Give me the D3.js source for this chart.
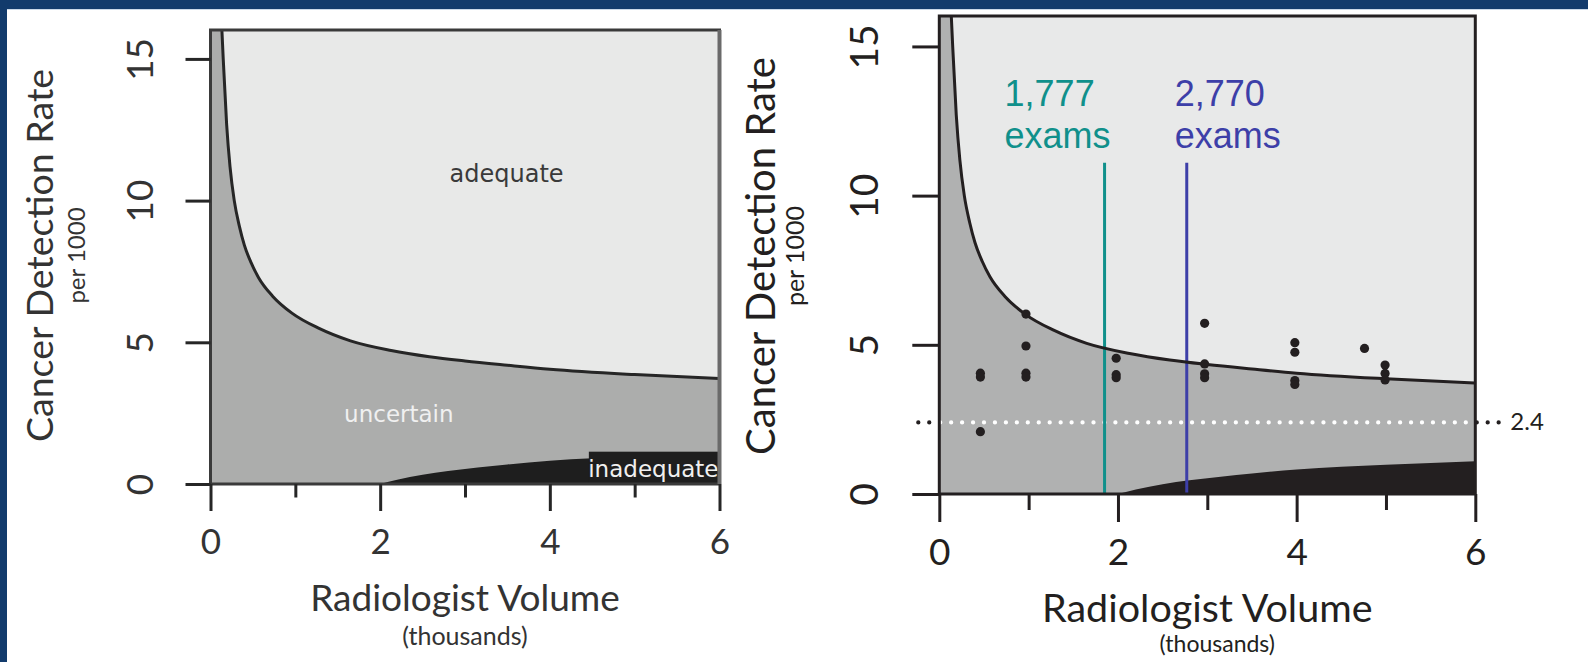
<!DOCTYPE html>
<html><head><meta charset="utf-8">
<script src="https://cdn.jsdelivr.net/npm/d3@7"></script>
<style>html,body{margin:0;padding:0;background:#fff;overflow:hidden} svg{display:block}</style>
</head><body>
<svg id="c" width="1588" height="662"></svg>
<script>
// ---------------- data ----------------
const yTicks = [0, 5, 10, 15];
const xMajorTicks = [0, 2, 4, 6];
const xMinorTicks = [1, 3, 5];
// boundary adequate / uncertain  (x: thousands of exams, y: per 1000)
const upperX = [0.13, 0.15, 0.19, 0.23, 0.28, 0.34, 0.40, 0.48, 0.567, 0.735, 0.96, 1.28, 1.65, 2.13, 2.58, 3.0, 3.5, 4.0, 5.0, 6.0];
const upperY = [16.3, 15.0, 12.7, 11.2, 10.0, 9.1, 8.42, 7.8, 7.28, 6.62, 6.03, 5.49, 5.05, 4.71, 4.49, 4.34, 4.19, 4.05, 3.86, 3.72];
// boundary uncertain / inadequate
const lowerX = [2.0, 2.2, 2.5, 2.8, 3.5, 4.0, 5.0, 6.0];
const lowerY = [0, 0.15, 0.33, 0.46, 0.69, 0.82, 0.98, 1.1];
// radiologists (right panel)
const pointX = [0.46, 0.46, 0.46, 0.97, 0.97, 0.97, 0.97, 1.98, 1.98, 1.98, 2.97, 2.97, 2.97, 2.97, 3.98, 3.98, 3.98, 3.98, 4.76, 4.99, 4.99, 4.99];
const pointY = [4.05, 3.92, 2.09, 6.03, 4.96, 4.05, 3.92, 4.55, 4.0, 3.9, 5.72, 4.36, 4.03, 3.9, 5.07, 4.75, 3.8, 3.67, 4.88, 4.32, 4.04, 3.82];
const threshold = 2.4;
const examValues = [1.85, 2.77];
const examLabels = ["1,777", "2,770"];
const examColors = ["#10908b", "#3d3fa8"];
const regionLabels = ["adequate", "uncertain", "inadequate"];
const yMax = 16.02;

const svg = d3.select("#c");
const FONT = "Lato, 'Open Sans', sans-serif";

// navy frame
svg.append("rect").attr("x",0).attr("y",0).attr("width",1588).attr("height",9).attr("fill","#123b6c");
svg.append("rect").attr("x",0).attr("y",9).attr("width",1588).attr("height",1).attr("fill","#c9d8e8");
svg.append("rect").attr("x",0).attr("y",0).attr("width",7).attr("height",662).attr("fill","#123b6c");

const upper = upperX.map((v,i)=>[v, upperY[i]]);
const lower = lowerX.map((v,i)=>[v, lowerY[i]]);

function drawPanel(c) {
  const x = d3.scaleLinear().domain([0,6]).range([c.left, c.right]);
  const y = d3.scaleLinear().domain([0,yMax]).range([c.bottom, c.top]);
  const g = svg.append("g");
  const clipId = "clip" + c.id;
  svg.append("clipPath").attr("id", clipId).append("rect")
    .attr("x", c.left).attr("y", c.top).attr("width", c.right - c.left).attr("height", c.bottom - c.top);

  if (c.threshold) {
    g.append("line").attr("x1", x(0) - 21).attr("x2", x(6) + 30)
      .attr("y1", y(threshold)).attr("y2", y(threshold))
      .attr("stroke", c.ink).attr("stroke-width", 4.3).attr("stroke-linecap","round")
      .attr("stroke-dasharray", "0 10.95");
  }

  const plot = g.append("g").attr("clip-path", `url(#${clipId})`);
  plot.append("rect").attr("x", c.left).attr("y", c.top)
    .attr("width", c.right - c.left).attr("height", c.bottom - c.top).attr("fill", c.mid);
  plot.append("path").datum(upper)
    .attr("d", d3.area().x(d=>x(d[0])).y0(d=>y(d[1])).y1(y(yMax)).curve(d3.curveMonotoneX))
    .attr("fill", c.light);
  plot.append("path").datum(lower)
    .attr("d", d3.area().x(d=>x(d[0])).y0(y(0)).y1(d=>y(d[1])).curve(d3.curveMonotoneX))
    .attr("fill", c.dark);

  if (c.threshold) {
    plot.append("line").attr("x1", x(0) - 21).attr("x2", x(6) + 30)
      .attr("y1", y(threshold)).attr("y2", y(threshold))
      .attr("stroke", "#ffffff").attr("stroke-width", 4.3).attr("stroke-linecap","round")
      .attr("stroke-dasharray", "0 10.95");
    examValues.forEach((v,i)=>{
      plot.append("line").attr("x1", x(v)).attr("x2", x(v))
        .attr("y1", y(0)).attr("y2", y(11.1))
        .attr("stroke", examColors[i]).attr("stroke-width", 3);
    });
  }

  plot.append("path").datum(upper)
    .attr("d", d3.line().x(d=>x(d[0])).y(d=>y(d[1])).curve(d3.curveMonotoneX))
    .attr("fill", "none").attr("stroke", c.ink).attr("stroke-width", 3);

  if (c.points) {
    plot.selectAll("circle.pt").data(pointX.map((v,i)=>[v, pointY[i]])).enter()
      .append("circle").attr("class","pt")
      .attr("cx", d=>x(d[0])).attr("cy", d=>y(d[1])).attr("r", 4.6).attr("fill", c.ink);
  }

  if (c.regionText) {
    plot.append("text").attr("x", x(3.49)).attr("y", y(10.67)).attr("text-anchor","middle")
      .attr("font-family","'DejaVu Sans', sans-serif").attr("font-size", 24).attr("fill","#3a3a3a")
      .text(regionLabels[0]);
    plot.append("text").attr("x", x(2.22)).attr("y", y(2.2)).attr("text-anchor","middle")
      .attr("font-family","'DejaVu Sans', sans-serif").attr("font-size", 23).attr("fill","#f0f0f0")
      .text(regionLabels[1]);
    plot.append("rect").attr("x", x(4.46)).attr("y", y(1.14)).attr("width", x(6) - x(4.46))
      .attr("height", y(0) - y(1.14)).attr("fill", c.dark);
    plot.append("text").attr("x", x(6) - 1).attr("y", y(0.26)).attr("text-anchor","end")
      .attr("font-family","'DejaVu Sans', sans-serif").attr("font-size", 23).attr("fill","#f0f0f0")
      .text(regionLabels[2]);
  }

  // frame
  g.append("rect").attr("x", c.left).attr("y", c.top)
    .attr("width", c.right - c.left).attr("height", c.bottom - c.top)
    .attr("fill","none").attr("stroke", c.frame).attr("stroke-width", 3);
  if (c.rightFrame) {
    g.append("line").attr("x1", c.right).attr("x2", c.right).attr("y1", c.top).attr("y2", c.bottom)
      .attr("stroke", c.rightFrame).attr("stroke-width", 4);
  }

  // axes
  const yAxis = g.append("g").attr("transform", `translate(${c.left},0)`)
    .call(d3.axisLeft(y).tickValues(yTicks).tickSize(c.yTickLen).tickFormat(d3.format("d")));
  yAxis.select(".domain").remove();
  yAxis.selectAll("line").attr("stroke", c.ink).attr("stroke-width", 3);
  yAxis.selectAll("text").attr("x", null).attr("dy", null)
    .attr("transform", `translate(${-c.yLabelOff},0) rotate(-90)`)
    .attr("text-anchor","middle").attr("font-family", FONT).attr("font-size", c.yLabelSize).attr("fill", c.text);

  const xAxis = g.append("g").attr("transform", `translate(0,${c.bottom})`)
    .call(d3.axisBottom(x).tickValues(xMajorTicks).tickSize(c.xMajorLen).tickFormat(d3.format("d")));
  xAxis.select(".domain").remove();
  xAxis.selectAll("line").attr("stroke", c.ink).attr("stroke-width", 3);
  xAxis.selectAll("text").attr("y", c.xLabelOff).attr("dy", null)
    .attr("font-family", FONT).attr("font-size", c.xLabelSize).attr("fill", c.text);

  const xMinor = g.append("g").attr("transform", `translate(0,${c.bottom})`)
    .call(d3.axisBottom(x).tickValues(xMinorTicks).tickSize(c.xMinorLen).tickFormat(""));
  xMinor.select(".domain").remove();
  xMinor.selectAll("line").attr("stroke", c.ink).attr("stroke-width", 3);

  // titles
  g.append("text").attr("transform", `translate(${c.yTitleX},${c.yTitleY}) rotate(-90)`)
    .attr("text-anchor","middle").attr("font-family", FONT).attr("font-size", c.yTitleSize).attr("fill", c.text)
    .text("Cancer Detection Rate");
  g.append("text").attr("transform", `translate(${c.perX},${c.yTitleY}) rotate(-90)`)
    .attr("text-anchor","middle").attr("font-family", FONT).attr("font-size", c.perSize).attr("fill", c.text)
    .text("per 1000");
  g.append("text").attr("x", (c.left + c.right)/2).attr("y", c.xTitleY)
    .attr("text-anchor","middle").attr("font-family", FONT).attr("font-size", c.xTitleSize).attr("fill", c.text)
    .text("Radiologist Volume");
  g.append("text").attr("x", (c.left + c.right)/2 + c.thouShift).attr("y", c.thouY)
    .attr("text-anchor","middle").attr("font-family", FONT).attr("font-size", c.thouSize).attr("fill", c.text)
    .text("(thousands)");

  if (c.threshold) {
    g.append("text").attr("x", x(6) + 35).attr("y", y(threshold) + 8)
      .attr("font-family", FONT).attr("font-size", 24).attr("fill", c.ink).text(String(threshold));
    examValues.forEach((v,i)=>{
      const lx = x(v) + (i === 0 ? -100 : -12);
      const t = g.append("text").attr("font-family","'Liberation Sans', Arial, sans-serif")
        .attr("font-size", 36).attr("fill", examColors[i]);
      t.append("tspan").attr("x", lx).attr("y", 106).text(examLabels[i]);
      t.append("tspan").attr("x", lx).attr("y", 148).text("exams");
    });
  }
}

drawPanel({
  id: "L", left: 210.5, right: 719.5, top: 30, bottom: 484,
  light: "#e8e9e8", mid: "#acadac", dark: "#1e1e1e", ink: "#262626", frame: "#3a3a3a", rightFrame: "#6a6a6a",
  text: "#333333",
  yTickLen: 25, xMajorLen: 27, xMinorLen: 13.5,
  yLabelOff: 57.5, yLabelSize: 37, xLabelOff: 70, xLabelSize: 35,
  yTitleX: 53, yTitleY: 255.5, yTitleSize: 37.5, perX: 85, perSize: 24,
  xTitleY: 610.5, xTitleSize: 37, thouY: 645, thouSize: 25, thouShift: 0,
  regionText: true
});
drawPanel({
  id: "R", left: 939.3, right: 1475.3, top: 16, bottom: 494,
  light: "#e8e9e9", mid: "#b0b1b1", dark: "#231f20", ink: "#231f20", frame: "#231f20",
  text: "#231f20",
  yTickLen: 27, xMajorLen: 28, xMinorLen: 16,
  yLabelOff: 61.3, yLabelSize: 39, xLabelOff: 71, xLabelSize: 37,
  yTitleX: 775, yTitleY: 256, yTitleSize: 40, perX: 804, perSize: 25,
  xTitleY: 621.7, xTitleSize: 39.5, thouY: 652, thouSize: 23, thouShift: 10,
  threshold: true, points: true
});
</script>
</body></html>
